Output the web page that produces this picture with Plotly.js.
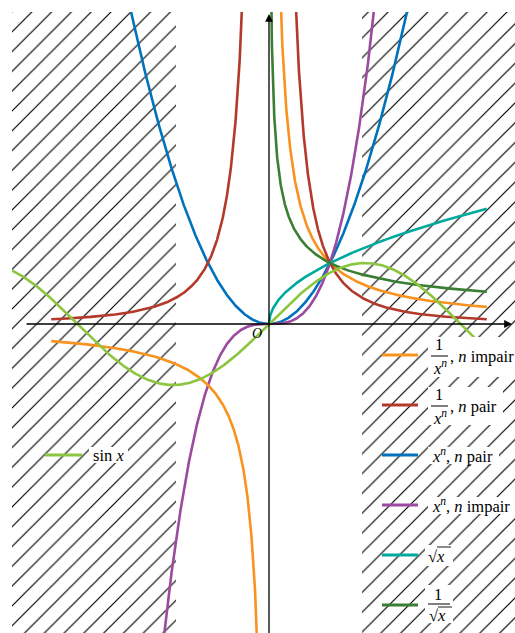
<!DOCTYPE html>
<html>
<head>
<meta charset="utf-8">
<script src="https://cdn.plot.ly/plotly-3.0.1.min.js"></script>
<style>
  html, body { margin: 0; padding: 0; background: #fff; }
  #chart { width: 515px; height: 633px; }
</style>
</head>
<body>
<div id="chart"></div>
<script>
// Reference functions: powers of x and sin x
const exponents   = [-1, -2, 2, 3, 0.5, -0.5];          // power of x for each family
const curveColors = ['#f7931e', '#b3392a', '#0072bd', '#9a4a9f', '#00a99d', '#3a7f33'];
const sinColor    = '#8cc63f';
const domainEnd   = 3.57;                               // power curves drawn on [-3.57, 3.57]
const sinDomain   = [-4.21, 3.43];
const hatchBands  = [[-4.6, -1.525], [1.525, 4.6]];     // hatched x-intervals

// Legend labels (same order as exponents)
const legendLabels = [
  {frac: '<i>x</i><sup><i>n</i></sup>', rest: ', <i>n</i> impair'},
  {frac: '<i>x</i><sup><i>n</i></sup>', rest: ', <i>n</i> pair'},
  {text: '<i>x</i><sup><i>n</i></sup>, <i>n</i> pair'},
  {text: '<i>x</i><sup><i>n</i></sup>, <i>n</i> impair'},
  {root: true},
  {frac: 'root'}
];
const sinLabel = 'sin <i>x</i>';

// ---- geometry helpers (pixel -> data), 61 px per unit, origin at (269, 324)
const W = 515, H = 633, ML = 12, MT = 12;
const X0 = 269, Y0 = 324, S = 61;
const px = p => (p - X0) / S;
const py = p => (Y0 - p) / S;

function sample(a, b, n) {
  const out = [];
  for (let i = 0; i <= n; i++) out.push(a + (b - a) * i / n);
  return out;
}

const traces = [];

// hatched bands
hatchBands.forEach(([a, b]) => {
  traces.push({
    x: [a, b, b, a, a], y: [-6, -6, 6, 6, -6],
    mode: 'lines', fill: 'toself', line: {width: 0, color: 'rgba(0,0,0,0)'},
    fillcolor: 'rgba(0,0,0,0)',
    fillpattern: {shape: '/', size: 14, solidity: 0.085, fgcolor: 'black', bgcolor: 'rgba(0,0,0,0)', fillmode: 'replace'},
    hoverinfo: 'skip'
  });
});

// power curves
const drawOrder = [2, 3, 0, 1, 4, 5];
drawOrder.forEach(k => {
  const e = exponents[k];
  let xs;
  if (Number.isInteger(e)) {
    const neg = sample(-domainEnd, -0.004, 1500);
    const pos = sample(0.004, domainEnd, 1500);
    xs = e > 0 ? sample(-domainEnd, domainEnd, 1500) : neg.concat([null], pos);
  } else {
    xs = e > 0 ? sample(0, domainEnd, 1500) : sample(0.02, domainEnd, 2000);
  }
  const ys = xs.map(x => x === null ? null : Math.pow(x, e));
  traces.push({x: xs, y: ys, mode: 'lines', line: {color: curveColors[k], width: 2.6}, hoverinfo: 'skip'});
});

// sine curve
const sx = sample(sinDomain[0], sinDomain[1], 800);
traces.push({x: sx, y: sx.map(Math.sin), mode: 'lines', line: {color: sinColor, width: 2.6}, hoverinfo: 'skip'});

// ---- legend (drawn by hand: boxes, samples, labels)
const font = {family: 'Liberation Serif, serif', size: 16.5, color: 'black'};
const shapes = [];
const annotations = [];
const rowY = [355, 405, 455, 505, 555, 605];
const boxes = [[428, 337, 515, 377], [428, 387, 503, 425], [428, 447, 499, 464],
               [428, 497, 515, 514], [425, 545, 453, 566], [425, 585, 453, 623]];

function pline(x1, y1, x2, y2, color, width) {
  shapes.push({type: 'line', xref: 'x', yref: 'y', x0: px(x1), y0: py(y1), x1: px(x2), y1: py(y2),
               line: {color: color, width: width}, layer: 'above'});
}
function prect(b) {
  shapes.push({type: 'rect', xref: 'x', yref: 'y', x0: px(b[0]), y0: py(b[1]), x1: px(b[2]), y1: py(b[3]),
               fillcolor: 'white', line: {width: 0}, layer: 'above'});
}
function ptext(x, y, text, anchor, size) {
  annotations.push({xref: 'x', yref: 'y', x: px(x), y: py(y), text: text, showarrow: false,
                    xanchor: anchor || 'left', yanchor: 'middle', font: Object.assign({}, font, size ? {size: size} : {})});
}

legendLabels.forEach((lab, k) => {
  const y = rowY[k];
  prect(boxes[k]);
  pline(382, y, 418, y, curveColors[k], 3);
  if (lab.text) {
    ptext(430, y, lab.text);
  } else if (lab.root) {
    ptext(426, y + 1, '√<i>x</i>');
    pline(437, y - 8, 451, y - 8, 'black', 0.9);
  } else if (lab.frac === 'root') {
    ptext(438, y - 11, '1', 'center');
    pline(428, y - 1, 450, y - 1, 'black', 1);
    ptext(427, y + 10, '√<i>x</i>');
    pline(438, y + 2, 452, y + 2, 'black', 0.9);
  } else {
    ptext(439, y - 11, '1', 'center');
    pline(431, y + 1, 448, y + 1, 'black', 1);
    ptext(440, y + 12, lab.frac, 'center');
    ptext(448, y + 1, lab.rest);
  }
});

// sin x legend entry
prect([89, 447, 128, 463]);
pline(45, 455, 82, 455, sinColor, 3);
ptext(91, 455, sinLabel);

// origin label
ptext(257, 333, '<i>O</i>', 'center', 14);

// axes with arrow heads
annotations.push({xref: 'x', yref: 'y', axref: 'x', ayref: 'y', x: px(512), y: 0, ax: px(25), ay: 0,
                  text: '', showarrow: true, arrowhead: 2, arrowsize: 1.2, arrowwidth: 1.3, arrowcolor: 'black', standoff: 0});
annotations.push({xref: 'x', yref: 'y', axref: 'x', ayref: 'y', x: 0, y: py(14), ax: 0, ay: py(640),
                  text: '', showarrow: true, arrowhead: 2, arrowsize: 1.2, arrowwidth: 1.3, arrowcolor: 'black', standoff: 0});

const layout = {
  width: W, height: H,
  margin: {l: ML, r: 0, t: MT, b: 0},
  paper_bgcolor: 'white', plot_bgcolor: 'white',
  showlegend: false,
  xaxis: {range: [px(ML), px(W)], visible: false, fixedrange: true},
  yaxis: {range: [py(H), py(MT)], visible: false, fixedrange: true},
  shapes: shapes,
  annotations: annotations
};

Plotly.newPlot('chart', traces, layout, {displayModeBar: false, staticPlot: true});
</script>
</body>
</html>
